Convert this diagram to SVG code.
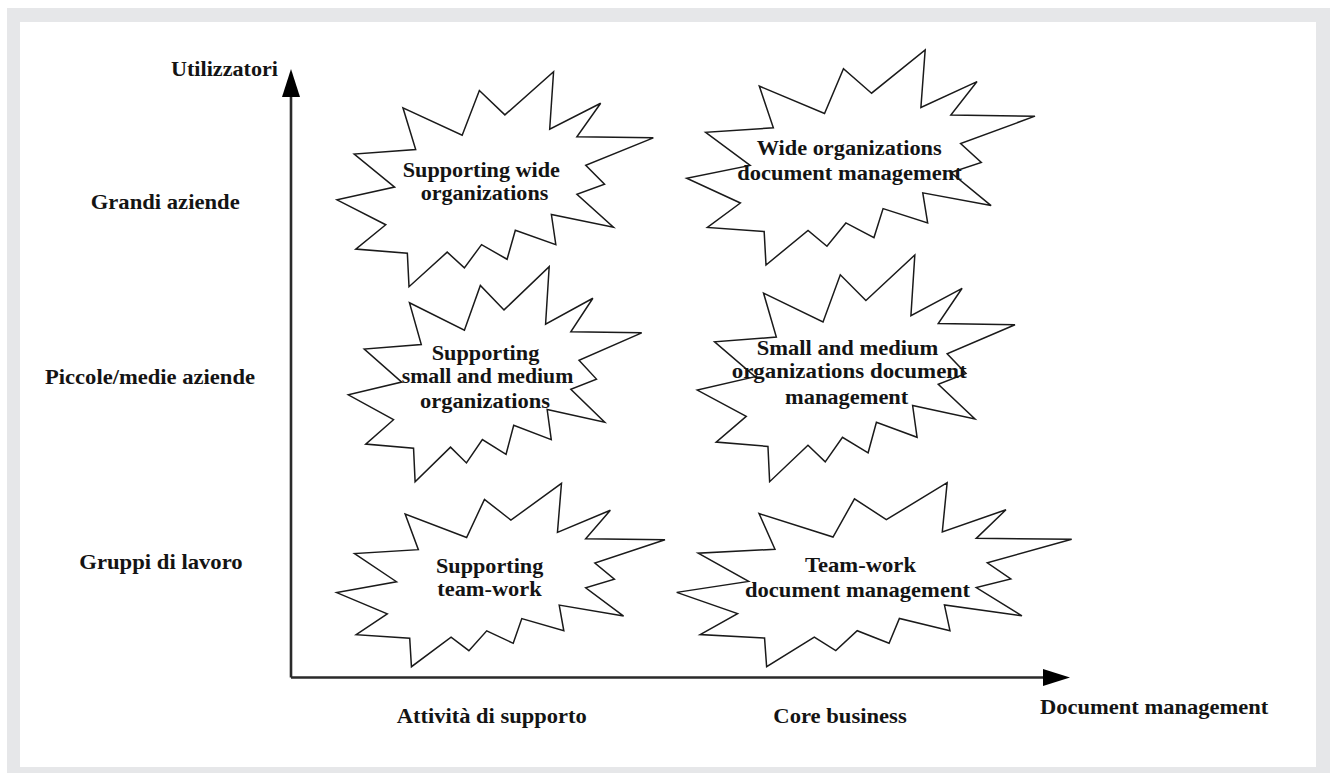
<svg xmlns="http://www.w3.org/2000/svg" xmlns:xlink="http://www.w3.org/1999/xlink" width="1330" height="773" viewBox="0 0 1330 773">
  <style>
    .lbl { font-family: "Liberation Serif", "Times New Roman", serif; font-weight: bold; font-size: 22px; fill: #141414; }
    .star { fill: #ffffff; stroke: #1a1a1a; stroke-width: 1.5; stroke-linejoin: miter; }
    .axis { stroke: #2a2a2a; stroke-width: 2.6; fill: none; }
    .head { fill: #000000; }
  </style>
  <defs>
    <path id="seal" vector-effect="non-scaling-stroke" d="M11464,4340 L9722,1887 L8548,6383 L4503,3626 L5373,7816 L1174,8270 L3934,11592 L0,12875 L3329,15372 L1283,17824 L4804,18239 L4918,21600 L7525,18125 L8698,19712 L9871,17371 L11614,18844 L12178,15937 L14943,17371 L14640,14348 L18878,15632 L16382,12311 L18270,11292 L16986,9404 L21600,6646 L16382,6533 L18005,3172 L14524,5778 L14789,0 Z"/>
  </defs>

  <!-- frame -->
  <rect x="0" y="0" width="1330" height="773" fill="#ffffff"/>
  <rect x="7" y="8" width="1323" height="765" fill="#e6e7e9"/>
  <rect x="20" y="22" width="1296" height="745" fill="#ffffff"/>

  <!-- connectors / axes -->
  <g id="axes">
    <line class="axis" x1="291" y1="95" x2="291" y2="677.5"/>
    <line class="axis" x1="291" y1="677.5" x2="1045" y2="677.5"/>
    <polygon class="head" points="291,69 282,97 300,97"/>
    <polygon class="head" points="1070,677.5 1043,669 1043,686"/>
  </g>

  <!-- axis labels -->
  <g id="axis-labels">
    <text class="lbl" x="171" y="76" textLength="107" lengthAdjust="spacingAndGlyphs">Utilizzatori</text>
    <text class="lbl" x="90.7" y="209.3" textLength="149" lengthAdjust="spacingAndGlyphs">Grandi aziende</text>
    <text class="lbl" x="45" y="384" textLength="210" lengthAdjust="spacingAndGlyphs">Piccole/medie aziende</text>
    <text class="lbl" x="79.3" y="569.3" textLength="163.4" lengthAdjust="spacingAndGlyphs">Gruppi di lavoro</text>
    <text class="lbl" x="396.7" y="723.3" textLength="190" lengthAdjust="spacingAndGlyphs">Attività di supporto</text>
    <text class="lbl" x="773.3" y="723.3" textLength="133.4" lengthAdjust="spacingAndGlyphs">Core business</text>
    <text class="lbl" x="1040" y="714" textLength="228.3" lengthAdjust="spacingAndGlyphs">Document management</text>
  </g>

  <!-- nodes -->
  <g id="node-supporting-wide">
    <use xlink:href="#seal" class="star" transform="translate(337,71.7) scale(0.014644,0.009954)"/>
    <text class="lbl" x="402.7" y="176.7" textLength="157.3" lengthAdjust="spacingAndGlyphs">Supporting wide</text>
    <text class="lbl" x="420.7" y="200" textLength="127.6" lengthAdjust="spacingAndGlyphs">organizations</text>
  </g>

  <g id="node-wide-docmgmt">
    <use xlink:href="#seal" class="star" transform="translate(686.7,50) scale(0.016125,0.009954)"/>
    <text class="lbl" x="756.7" y="155" textLength="185" lengthAdjust="spacingAndGlyphs">Wide organizations</text>
    <text class="lbl" x="737.3" y="180" textLength="224.4" lengthAdjust="spacingAndGlyphs">document management</text>
  </g>

  <g id="node-supporting-sme">
    <use xlink:href="#seal" class="star" transform="translate(348.3,266.7) scale(0.013583,0.009954)"/>
    <text class="lbl" x="431.7" y="360" textLength="107.6" lengthAdjust="spacingAndGlyphs">Supporting</text>
    <text class="lbl" x="401.7" y="383.3" textLength="171.6" lengthAdjust="spacingAndGlyphs">small and medium</text>
    <text class="lbl" x="420" y="408.3" textLength="130" lengthAdjust="spacingAndGlyphs">organizations</text>
  </g>

  <g id="node-sme-docmgmt">
    <use xlink:href="#seal" class="star" transform="translate(697.3,255) scale(0.014708,0.010495)"/>
    <text class="lbl" x="756.7" y="355" textLength="181.6" lengthAdjust="spacingAndGlyphs">Small and medium</text>
    <text class="lbl" x="731.7" y="378.3" textLength="235" lengthAdjust="spacingAndGlyphs">organizations document</text>
    <text class="lbl" x="785" y="404" textLength="123.3" lengthAdjust="spacingAndGlyphs">management</text>
  </g>

  <g id="node-supporting-teamwork">
    <use xlink:href="#seal" class="star" transform="translate(336.7,483.3) scale(0.015199,0.008491)"/>
    <text class="lbl" x="436" y="572.7" textLength="107.3" lengthAdjust="spacingAndGlyphs">Supporting</text>
    <text class="lbl" x="437.3" y="596" textLength="104.4" lengthAdjust="spacingAndGlyphs">team-work</text>
  </g>

  <g id="node-teamwork-docmgmt">
    <use xlink:href="#seal" class="star" transform="translate(676.7,482.7) scale(0.018287,0.008519)"/>
    <text class="lbl" x="805" y="571.7" textLength="111" lengthAdjust="spacingAndGlyphs">Team-work</text>
    <text class="lbl" x="745" y="596.7" textLength="225" lengthAdjust="spacingAndGlyphs">document management</text>
  </g>
</svg>
